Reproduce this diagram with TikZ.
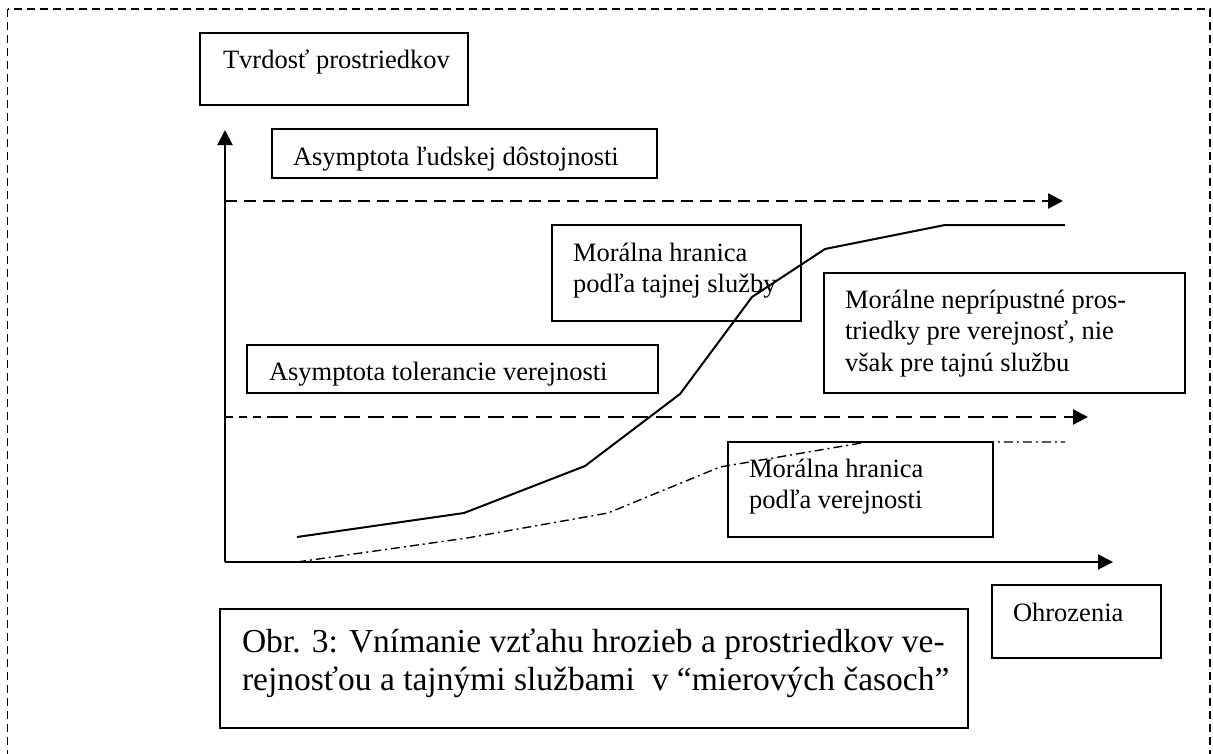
\documentclass[tikz,border=0pt]{standalone}
\usepackage{fontspec}
\setmainfont{Liberation Serif}
\usetikzlibrary{arrows.meta}
\newcommand\mlines[1]{\begin{tabular}[t]{@{}l@{}}#1\end{tabular}}
\begin{document}
\begin{tikzpicture}[x=1pt,y=-1pt,
  box/.style={draw,line width=1.6pt,inner sep=0pt,outer sep=0pt,anchor=north west},
  txt/.style={anchor=base west,inner sep=0pt,outer sep=0pt,font=\fontsize{26.5}{31.5}\selectfont},
  captxt/.style={anchor=base west,inner sep=0pt,outer sep=0pt,font=\fontsize{33.5}{38}\selectfont},
  tip/.style={-{Triangle[length=15pt,width=15pt]}},
  axisline/.style={line width=2pt,tip},
  asym/.style={line width=2.4pt,dash pattern=on 12pt off 7pt,tip},
  asymtwo/.style={line width=2.2pt,dash pattern=on 16pt off 8pt,tip},
  curve/.style={line width=2pt,line join=miter},
  dotcurve/.style={line width=1.4pt,dash pattern=on 9pt off 4pt on 2pt off 4pt},
  frame/.style={line width=1.4pt,dash pattern=on 8pt off 5pt}]
\fill[white] (0,0) rectangle (1213,753);
\useasboundingbox (0,0) rectangle (1213,753);
% outer dashed frame (bottom edge lies below the picture)
\draw[frame] (7.5,9) rectangle (1210,770);
% axes
\coordinate (O) at (225,562);
\coordinate (ytip) at (225,130);
\coordinate (xtip) at (1113,562);
\draw[axisline] (O) -- (ytip);
\draw[axisline] (O) -- (xtip);
% asymptote lines
\coordinate (a1s) at (225,201);
\coordinate (a1e) at (1063,201);
\draw[asym] (a1s) -- (a1e);
\coordinate (a2s) at (225,417);
\coordinate (a2m) at (272,417);
\coordinate (a2e) at (1088,417);
\draw[line width=1.6pt,dash pattern=on 8pt off 6pt] (a2s) -- (a2m);
\draw[asymtwo] (a2m) -- (a2e);
% moral limit of secret service (solid)
\draw[curve] (297,537) -- (464,513) -- (585,466) -- (680,394) -- (752,297) -- (825,249) -- (945,225) -- (1065,225);
% moral limit of public (dash-dot)
\draw[dotcurve] (297,562) -- (467,538) -- (608,513) -- (720,467) -- (867,442) -- (1065,442);
% boxes
\node[box,minimum width=268pt,minimum height=72pt] (tvrd) at (200,33) {};
\node[txt] (tvrdt) at (223,68) {Tvrdosť prostriedkov};
\node[box,minimum width=385pt,minimum height=49pt] (asl) at (272,129) {};
\node[txt] (aslt) at (293,165) {Asymptota ľudskej dôstojnosti};
\node[box,minimum width=411pt,minimum height=48pt] (ast) at (247,345) {};
\node[txt] (astt) at (269,380) {Asymptota tolerancie verejnosti};
\node[box,minimum width=249pt,minimum height=96pt] (mts) at (552,225) {};
\node[txt] (mtst) at (573,261) {\mlines{Morálna hranica\\podľa tajnej služby}};
\node[box,minimum width=361pt,minimum height=120pt] (mnp) at (824,273) {};
\node[txt] (mnpt) at (845,308) {\mlines{Morálne neprípustné pros-\\triedky pre verejnosť, nie\\však pre tajnú službu}};
\node[box,minimum width=265pt,minimum height=95pt] (mhv) at (728,442) {};
\node[txt] (mhvt) at (749,477) {\mlines{Morálna hranica\\podľa verejnosti}};
\node[box,minimum width=169pt,minimum height=73pt] (ohr) at (992,585) {};
\node[txt] (ohrt) at (1013,621) {Ohrozenia};
\node[box,minimum width=748pt,minimum height=119pt] (cap) at (220,609) {};
\node[captxt] (capt) at (242,652) {\mlines{Obr. 3: Vnímanie vzťahu hrozieb a prostriedkov ve-\\rejnosťou a tajnými službami\ \ v “mierových časoch”}};
\end{tikzpicture}
\end{document}
